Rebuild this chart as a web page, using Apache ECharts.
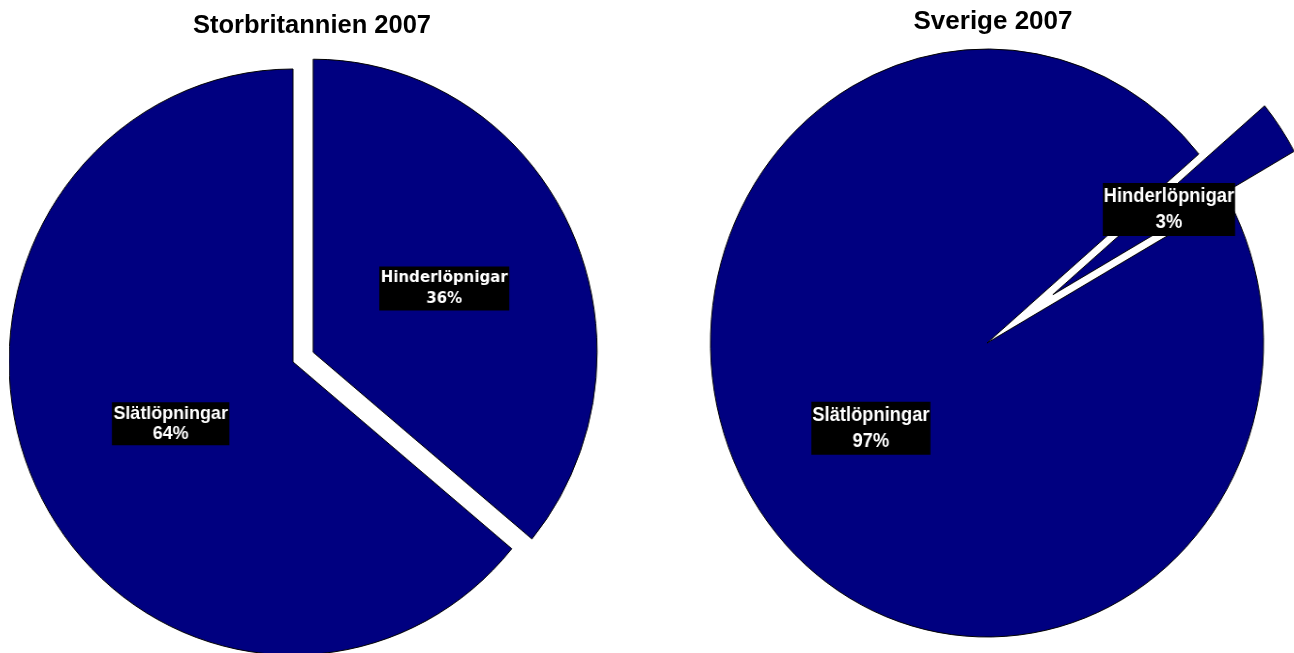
<!DOCTYPE html>
<html>
<head>
<meta charset="utf-8">
<title>Storbritannien / Sverige 2007</title>
<script src="https://cdn.jsdelivr.net/npm/echarts@6/dist/echarts.min.js"></script>
<style>
  html, body { margin: 0; padding: 0; background: #fff; }
  #wrap { position: relative; width: 1294px; height: 653px; overflow: hidden; }
  .layer { position: absolute; left: 0; top: 0; width: 1294px; height: 653px; }
  /* the original pies are slightly squeezed sideways */
  #uk { transform-origin: 293px 362px; transform: scaleX(0.969); }
  #se { width: 1400px; transform-origin: 987px 343px; transform: scaleX(0.9405); }
</style>
</head>
<body>
<div id="wrap">
  <div id="uk" class="layer"></div>
  <div id="se" class="layer"></div>
  <div id="titles" class="layer"></div>
</div>
<script>
// data
var categories = ['Hinderlöpnigar', 'Slätlöpningar'];
var ukValues = [36, 64];
var seValues = [3, 97];
var titles = ['Storbritannien 2007', 'Sverige 2007'];

var navy = '#000080';
var itemStyle = { color: navy, borderColor: '#000', borderWidth: 1 };

// black box label with white bold text
function sliceLabel(font, size, lineHeight, padding) {
  return {
    show: true,
    position: 'inside',
    formatter: '{b}\n{d}%',
    color: '#fff',
    fontFamily: font,
    fontWeight: 'bold',
    fontSize: size,
    lineHeight: lineHeight,
    backgroundColor: '#000',
    padding: padding,
    align: 'center'
  };
}

// the first slice (Hinderlöpnigar) is pulled out
function pieData(values, labels) {
  return values.map(function (v, i) {
    return { name: categories[i], value: v, selected: i === 0, label: labels[i] };
  });
}

function pieSeries(name, center, radius, startAngle, offset, data, nudge) {
  return {
    name: name,
    type: 'pie',
    center: center,
    radius: radius,
    startAngle: startAngle,
    clockwise: true,
    selectedMode: 'single',
    selectedOffset: offset,
    avoidLabelOverlap: false,
    labelLine: { show: false },
    labelLayout: function (p) { return nudge[p.dataIndex] || {}; },
    itemStyle: itemStyle,
    select: { itemStyle: itemStyle },
    emphasis: { disabled: true },
    data: data
  };
}

// Storbritannien
function drawUk() {
  var chart = echarts.init(document.getElementById('uk'));
  chart.setOption({
    animation: false,
    series: [pieSeries(titles[0], [293, 362], 293, 90, 23,
      pieData(ukValues, [
        sliceLabel('DejaVu Sans', 15.5, 21, [1, 1.5]),
        sliceLabel('Liberation Sans, Arial', 18.5, 20, [1.5, 1.5])
      ]),
      [null, { dx: 9, dy: -2 }])]
  });
}

// Sverige
function drawSe() {
  var chart = echarts.init(document.getElementById('se'));
  chart.setOption({
    animation: false,
    series: [pieSeries(titles[1], [987, 343], 294, 40, 85,
      pieData(seValues, [
        sliceLabel('Liberation Sans, Arial', 19.5, 26, [0.5, 1]),
        sliceLabel('Liberation Sans, Arial', 19.5, 26, [0.5, 1])
      ]),
      [null, null])]
  });
}

// titles on top, not squeezed
function drawTitles() {
  var chart = echarts.init(document.getElementById('titles'));
  var ts = { fontFamily: 'Liberation Sans, Arial', fontWeight: 'bold', color: '#000' };
  chart.setOption({
    animation: false,
    title: [{
      text: titles[0], left: 312, top: 13, textAlign: 'center', padding: 0,
      textStyle: Object.assign({ fontSize: 25.5 }, ts)
    }, {
      text: titles[1], left: 993, top: 9, textAlign: 'center', padding: 0,
      textStyle: Object.assign({ fontSize: 26 }, ts)
    }]
  });
}

drawUk();
drawSe();
drawTitles();
</script>
</body>
</html>
